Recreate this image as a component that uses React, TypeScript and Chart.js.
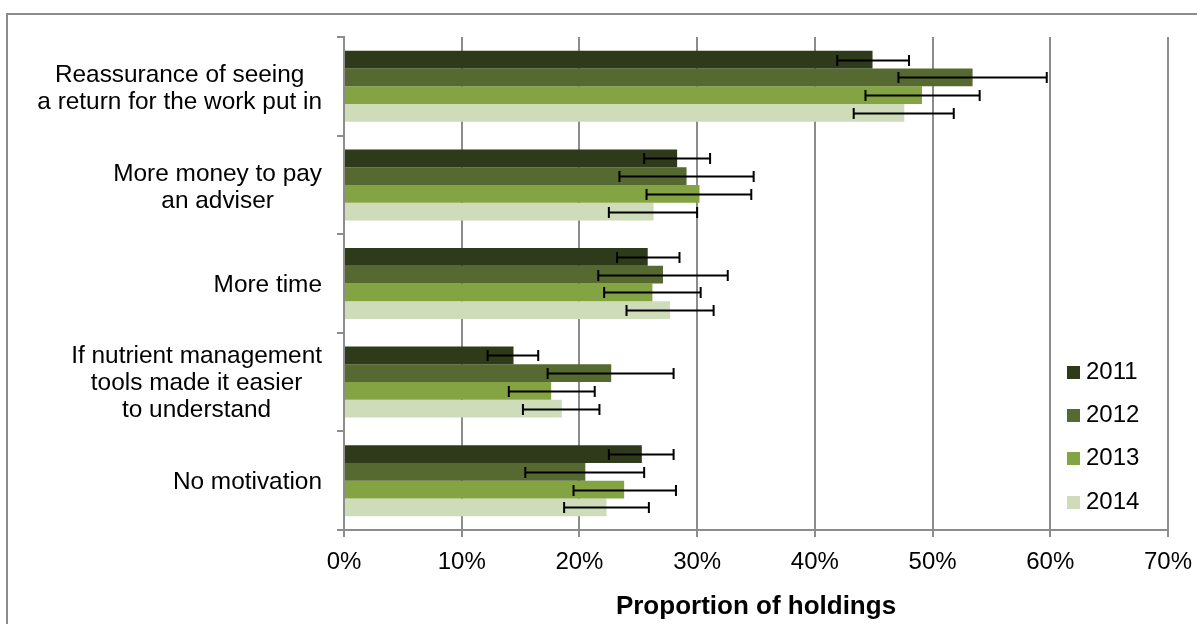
import React, { useEffect, useRef } from 'react';
import { Chart, registerables } from 'chart.js';
Chart.register(...registerables);

const FONT = '"Liberation Sans", Arial, sans-serif';

const categories = [
  ['Reassurance of seeing', 'a return for the work put in'],
  ['More money to pay', 'an adviser'],
  ['More time'],
  ['If nutrient management', 'tools made it easier', 'to understand'],
  ['No motivation'],
];
const seriesNames = ['2011', '2012', '2013', '2014'];
const seriesColors = ['#2f3a1a', '#566930', '#84a342', '#cfdcba'];

const values2011 = [44.9, 28.3, 25.8, 14.4, 25.3];
const values2012 = [53.4, 29.1, 27.1, 22.7, 20.5];
const values2013 = [49.1, 30.2, 26.2, 17.6, 23.8];
const values2014 = [47.6, 26.3, 27.7, 18.5, 22.3];

const low2011 = [41.9, 25.5, 23.2, 12.2, 22.5];
const high2011 = [48.0, 31.1, 28.5, 16.5, 28.0];
const low2012 = [47.1, 23.4, 21.6, 17.3, 15.4];
const high2012 = [59.7, 34.8, 32.6, 28.0, 25.5];
const low2013 = [44.3, 25.7, 22.1, 14.0, 19.5];
const high2013 = [54.0, 34.6, 30.3, 21.3, 28.2];
const low2014 = [43.3, 22.5, 24.0, 15.2, 18.7];
const high2014 = [51.8, 30.0, 31.4, 21.7, 25.9];

const xMin = 0;
const xMax = 70;
const xStep = 10;
const xTitle = 'Proportion of holdings';

const seriesValues = [values2011, values2012, values2013, values2014];
const seriesLow = [low2011, low2012, low2013, low2014];
const seriesHigh = [high2011, high2012, high2013, high2014];

const GRID = '#8c8c8c';

const decorPlugin = {
  id: 'decor',
  beforeDraw(chart: any) {
    const ctx = chart.ctx;
    ctx.save();
    ctx.strokeStyle = GRID;
    ctx.lineWidth = 2;
    ctx.strokeRect(7, 14, chart.width + 10, chart.height + 10);
    ctx.restore();
  },
  afterDatasetsDraw(chart: any) {
    const ctx = chart.ctx;
    const xs = chart.scales.x;
    ctx.save();
    ctx.strokeStyle = '#000';
    ctx.lineWidth = 2;
    chart.data.datasets.forEach((ds: any, i: number) => {
      const meta = chart.getDatasetMeta(i);
      meta.data.forEach((bar: any, j: number) => {
        const lo = xs.getPixelForValue(seriesLow[i][j]);
        const hi = xs.getPixelForValue(seriesHigh[i][j]);
        const y = Math.round(bar.y) + 0.5;
        const cap = 5.5;
        ctx.beginPath();
        ctx.moveTo(lo, y);
        ctx.lineTo(hi, y);
        ctx.moveTo(lo, y - cap);
        ctx.lineTo(lo, y + cap);
        ctx.moveTo(hi, y - cap);
        ctx.lineTo(hi, y + cap);
        ctx.stroke();
      });
    });
    ctx.restore();
  },
  afterDraw(chart: any) {
    const ctx = chart.ctx;
    const ys = chart.scales.y;
    ctx.save();
    ctx.fillStyle = '#000';
    ctx.font = `24.4px ${FONT}`;
    ctx.textBaseline = 'middle';
    ctx.textAlign = 'center';
    const right = ys.right - 22;
    categories.forEach((lines, i) => {
      const n = lines.length;
      const yc = ys.getPixelForValue(i) + (n === 2 ? 2.5 : 1.5);
      const w = Math.max(...lines.map((l) => ctx.measureText(l).width));
      const cx = right - w / 2;
      lines.forEach((l, k) => {
        ctx.fillText(l, cx, yc + (k - (n - 1) / 2) * 27);
      });
    });
    // legend
    const lx = 1067;
    const ly0 = 372;
    const lstep = 43.4;
    ctx.font = `24px ${FONT}`;
    ctx.textAlign = 'left';
    chart.data.datasets.forEach((ds: any, i: number) => {
      const cy = ly0 + i * lstep;
      ctx.fillStyle = ds.backgroundColor;
      ctx.fillRect(lx, Math.round(cy - 6.5), 13, 13);
      ctx.fillStyle = '#000';
      ctx.fillText(ds.label, lx + 19, cy);
    });
    ctx.restore();
  },
};

export default function App() {
  const ref = useRef<HTMLCanvasElement>(null);
  useEffect(() => {
    if (!ref.current) return;
    const chart = new Chart(ref.current, {
      type: 'bar',
      data: {
        labels: categories,
        datasets: seriesNames.map((name, i) => ({
          label: name,
          data: seriesValues[i],
          backgroundColor: seriesColors[i],
          borderWidth: 0,
          categoryPercentage: 0.72,
          barPercentage: 1.0,
        })),
      },
      options: {
        indexAxis: 'y',
        animation: false,
        responsive: false,
        maintainAspectRatio: false,
        layout: { padding: { top: 37, right: 29, left: 0, bottom: 0 } },
        plugins: {
          legend: { display: false },
          tooltip: { enabled: false },
        },
        scales: {
          y: {
            type: 'category',
            offset: true,
            ticks: { display: false },
            grid: {
              offset: true,
              drawOnChartArea: false,
              drawTicks: true,
              tickLength: 7,
              color: GRID,
              lineWidth: 2,
            },
            border: { display: true, color: GRID, width: 2 },
            afterFit: (s: any) => {
              s.width = 344;
              s.paddingTop = 0;
              s.paddingBottom = 0;
            },
          },
          x: {
            type: 'linear',
            position: 'bottom',
            min: xMin,
            max: xMax,
            ticks: {
              stepSize: xStep,
              color: '#000',
              font: { family: FONT, size: 24 },
              padding: 11,
              callback: (v: any) => `${v}%`,
            },
            grid: {
              color: GRID,
              lineWidth: 2,
              tickLength: 7,
            },
            border: { display: true, color: GRID, width: 2 },
            title: {
              display: true,
              text: xTitle,
              color: '#000',
              font: { family: FONT, size: 26, weight: 'bold' },
              padding: { top: 0, bottom: 2 },
            },
            afterFit: (s: any) => {
              s.height = 94;
              s.paddingLeft = 0;
              s.paddingRight = 0;
            },
          },
        },
      },
      plugins: [decorPlugin],
    });
    return () => chart.destroy();
  }, []);
  return (
    <div style={{ position: 'fixed', left: 0, top: 0, width: 1197, height: 624, background: '#fff' }}>
      <canvas ref={ref} width={1197} height={624} style={{ display: 'block' }} />
    </div>
  );
}
